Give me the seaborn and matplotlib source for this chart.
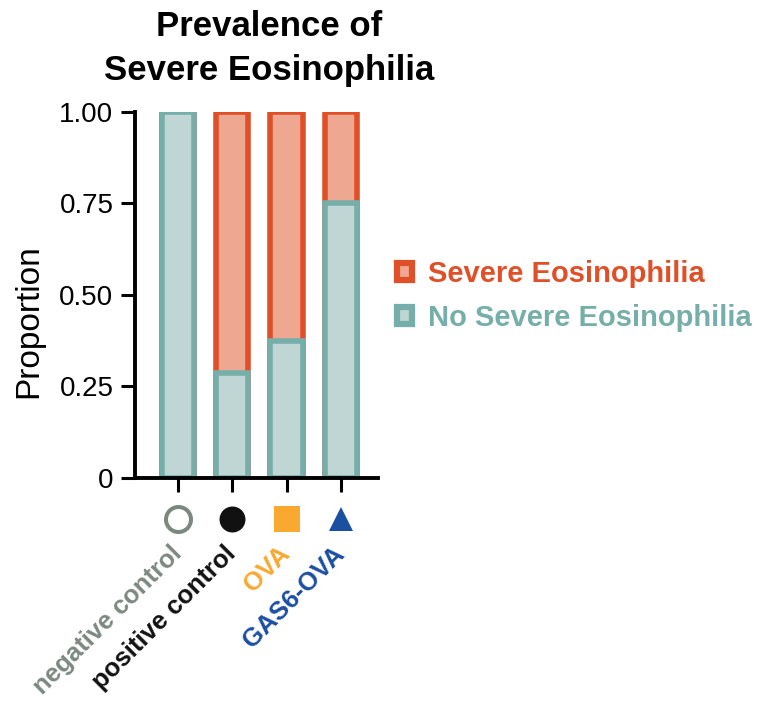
import pandas as pd
import matplotlib
matplotlib.use("Agg")
import matplotlib.pyplot as plt
import seaborn as sns
from matplotlib.patches import Patch

# data
groups = ["negative control", "positive control", "OVA", "GAS6-OVA"]
no_severe = [1.0, 0.286, 0.375, 0.75]
severe = [0.0, 0.714, 0.625, 0.25]
group_colors = ["#7B8880", "#111111", "#F9A830", "#1B4FA2"]
group_markers = ["o", "o", "s", "^"]
yticks = [0, 0.25, 0.5, 0.75, 1.0]
ytick_labels = ["0", "0.25", "0.50", "0.75", "1.00"]
legend_labels = ["Severe Eosinophilia", "No Severe Eosinophilia"]

red_edge = "#E05028"
red_fill = "#EEA892"
teal_edge = "#76AEAA"
teal_fill = "#C0D6D4"

df = pd.DataFrame({"group": groups, "no_severe": no_severe, "severe": severe})
df["total"] = df["no_severe"] + df["severe"]

sns.set_style("ticks")
plt.rcParams["font.family"] = ["Liberation Sans", "DejaVu Sans"]
plt.rcParams["text.color"] = "black"
plt.rcParams["axes.labelcolor"] = "black"
plt.rcParams["xtick.color"] = "black"
plt.rcParams["ytick.color"] = "black"

fig = plt.figure(figsize=(7.61, 7.02), dpi=100)
ax = fig.add_axes([135 / 761, 1 - 478 / 702, 243 / 761, 366.3 / 702])

# stacked bars: full bar in red first, then the "no severe" part on top
sns.barplot(data=df, x="group", y="total", color=red_fill, edgecolor=red_edge,
            linewidth=4, width=0.594, saturation=1, ax=ax)
sns.barplot(data=df, x="group", y="no_severe", color=teal_fill, edgecolor=teal_edge,
            linewidth=4, width=0.594, saturation=1, ax=ax)

ax.set_xlim(-0.80, 3.69)
ax.set_ylim(0, 1)
ax.set_yticks(yticks)
ax.set_yticklabels(ytick_labels)
ax.set_xlabel("")
ax.set_ylabel("Proportion", fontsize=24, color="black")
ax.yaxis.set_label_coords(-0.3745, 0.4286)

sns.despine(ax=ax)
for side in ["left", "bottom"]:
    ax.spines[side].set_linewidth(2.8)
    ax.spines[side].set_color("black")

ax.tick_params(axis="y", length=10, width=2.2, pad=5.5, labelsize=20,
               color="black", labelcolor="black")
ax.tick_params(axis="x", length=10, width=2.2, pad=42, labelsize=18.5, color="black")

for lab, c in zip(ax.get_xticklabels(), group_colors):
    lab.set_rotation(45)
    lab.set_ha("right")
    lab.set_va("center")
    lab.set_rotation_mode("anchor")
    lab.set_fontweight("bold")
    lab.set_color(c)

# group symbols under the axis
trans = ax.get_xaxis_transform()
for i, (c, m) in enumerate(zip(group_colors, group_markers)):
    if i == 0:
        ax.plot(i, -0.112, marker=m, markersize=18, markerfacecolor="white",
                markeredgecolor=c, markeredgewidth=2.9, transform=trans, clip_on=False)
    else:
        ms = 17.5 if m == "^" else 18.7
        ax.plot(i, -0.112, marker=m, markersize=ms, markerfacecolor=c,
                markeredgewidth=0, transform=trans, clip_on=False)

handles = [Patch(facecolor=red_fill, edgecolor=red_edge, linewidth=4.5),
           Patch(facecolor=teal_fill, edgecolor=teal_edge, linewidth=4.5)]
leg = fig.legend(handles, legend_labels, loc="center left",
                 bbox_to_anchor=(397 / 761, 1 - 296 / 702), frameon=False,
                 prop={"size": 21, "weight": "bold"}, handlelength=0.5,
                 handleheight=0.5, handletextpad=0.55, labelspacing=0.55,
                 borderpad=0, borderaxespad=0)
for t, c in zip(leg.get_texts(), [red_edge, teal_edge]):
    t.set_color(c)

fig.text(269 / 761, 1 - 36 / 702, "Prevalence of", ha="center", va="baseline",
         fontsize=25, fontweight="bold", color="black")
fig.text(269 / 761, 1 - 80 / 702, "Severe Eosinophilia", ha="center", va="baseline",
         fontsize=25, fontweight="bold", color="black")

fig.savefig("out.png", dpi=100)
